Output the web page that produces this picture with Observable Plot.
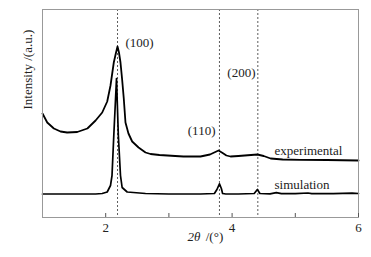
<!DOCTYPE html>
<html>
<head>
<meta charset="utf-8">
<script src="https://cdn.jsdelivr.net/npm/d3@7"></script>
<script src="https://cdn.jsdelivr.net/npm/@observablehq/plot@0.6"></script>
<style>
  html, body { margin: 0; padding: 0; background: #fff; }
  #chart { width: 371px; height: 257px; }
  #chart svg, #chart svg text { font-family: "Liberation Serif", "Times New Roman", serif !important; }
</style>
</head>
<body>
<div id="chart"></div>
<script>
// Experimental XRD pattern: 2θ (deg) and intensity (a.u.)
const expTheta = [1.00, 1.075, 1.18, 1.285, 1.39, 1.55, 1.71, 1.84, 1.945, 2.024, 2.076, 2.128, 2.16, 2.187, 2.21, 2.234, 2.26, 2.286, 2.313, 2.36, 2.419, 2.52, 2.63, 2.709, 2.85, 2.978, 3.10, 3.23, 3.34, 3.50, 3.65, 3.785, 3.85, 3.91, 3.975, 4.10, 4.2, 4.40, 4.5, 4.61, 4.80, 5.08, 5.5, 6.0];
const expInt   = [104, 95, 89, 86, 85, 85.5, 89, 97, 105, 116, 132, 155, 164, 171, 165, 155, 138, 119, 95, 84, 76, 70, 65, 63.5, 62.5, 62, 61.5, 61, 61, 61, 63, 67, 64.5, 62, 61, 61.5, 62, 63, 61.5, 59, 58, 57.7, 57.5, 57];

// Simulated XRD pattern
const simTheta = [1.00, 1.50, 1.84, 1.945, 2.024, 2.076, 2.10, 2.128, 2.171, 2.20, 2.234, 2.26, 2.34, 2.63, 3.00, 3.50, 3.72, 3.76, 3.80, 3.83, 3.85, 3.90, 4.10, 4.35, 4.40, 4.44, 4.60, 4.70, 4.78, 5.00, 5.20, 5.26, 5.60, 5.90, 6.0];
const simInt   = [23.5, 23.5, 23.5, 24, 25.5, 32, 42, 82, 139, 82, 42, 30, 25.5, 24, 23.5, 23.5, 24, 28, 33.7, 29, 24, 23.5, 23.5, 24, 28, 24, 23.7, 24.8, 23.8, 23.8, 24.5, 23.8, 23.8, 24.3, 24];

// Reflection positions (dashed guides)
const reflections = [2.187, 3.80, 4.407];

// Peak / series labels (data coordinates)
const labelText   = ["(100)", "(110)", "(200)", "experimental", "simulation"];
const labelTheta  = [2.313, 3.737, 4.37, 4.671, 4.671];
const labelInt    = [175, 87, 145, 67, 33];
const labelAnchor = ["start", "end", "end", "start", "start"];

const xTicks = [2, 3, 4, 5, 6];
const xTickLabels = [2, 4, 6];

const expData = expTheta.map((t, i) => ({t, v: expInt[i]}));
const simData = simTheta.map((t, i) => ({t, v: simInt[i]}));
const labels = labelText.map((s, i) => ({s, t: labelTheta[i], v: labelInt[i], a: labelAnchor[i]}));

const font = "Liberation Serif";
const txt = {fontFamily: font, fontSize: 13, fill: "#222"};

const plot = Plot.plot({
  width: 371,
  height: 257,
  marginLeft: 42,
  marginRight: 13,
  marginTop: 9,
  marginBottom: 40,
  style: {fontFamily: font, fontSize: "13px", color: "#222", background: "#fff"},
  x: {domain: [1, 6]},
  y: {domain: [0, 208], axis: null},
  marks: [
    Plot.ruleX(reflections, {stroke: "#333", strokeWidth: 0.8, strokeDasharray: "2,2"}),
    Plot.line(expData, {x: "t", y: "v", stroke: "#000", strokeWidth: 1.8}),
    Plot.line(simData, {x: "t", y: "v", stroke: "#000", strokeWidth: 1.7}),
    Plot.frame({stroke: "#999", strokeWidth: 1}),
    Plot.axisX({ticks: xTicks, tickSize: -4, tickFormat: () => "", stroke: "#555", label: null}),
    Plot.axisX({ticks: xTickLabels, tickSize: 0, tickPadding: 5, tickFormat: d => String(d), label: null, ...txt}),
    Plot.text(labels.filter(d => d.a === "start"), {x: "t", y: "v", text: "s", textAnchor: "start", ...txt}),
    Plot.text(labels.filter(d => d.a === "end"), {x: "t", y: "v", text: "s", textAnchor: "end", ...txt}),
    Plot.text(["2θ"], {frameAnchor: "bottom", text: d => d, textAnchor: "end", fontStyle: "italic", dx: 0, dy: 23, ...txt}),
    Plot.text([" /(°)"], {frameAnchor: "bottom", text: d => d, textAnchor: "start", dx: 2, dy: 23, ...txt}),
    Plot.text(["Intensity /(a.u.)"], {frameAnchor: "left", text: d => d, rotate: -90, dx: -15, dy: -4, ...txt})
  ]
});
document.getElementById("chart").appendChild(plot);
</script>
</body>
</html>
